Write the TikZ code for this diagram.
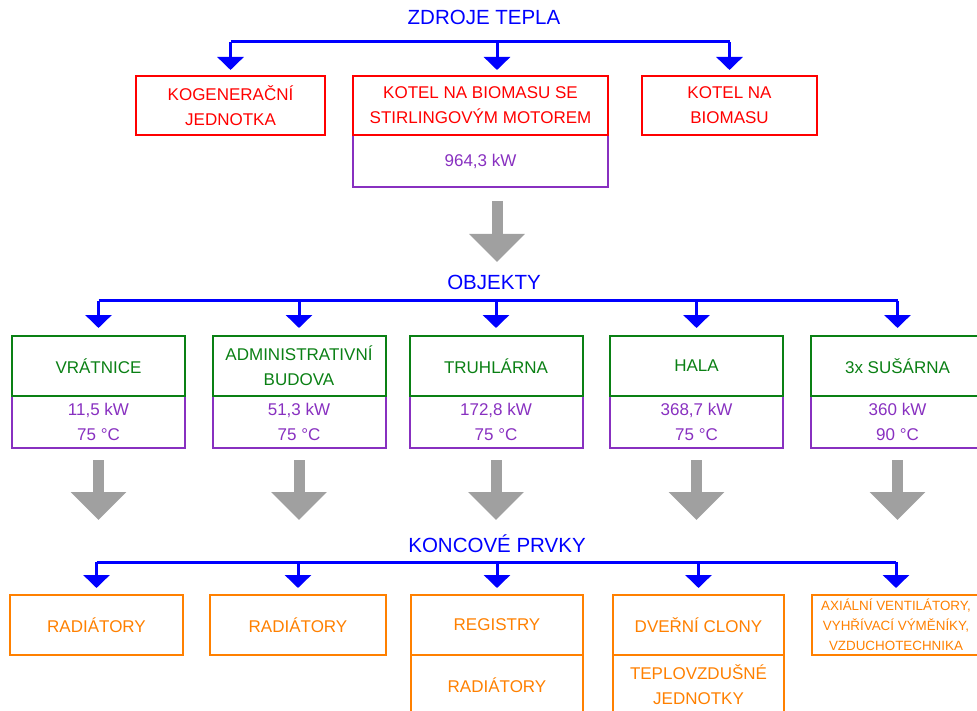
\documentclass[tikz,border=0pt]{standalone}
\usepackage{fontspec}
\setmainfont{Liberation Sans}
\usetikzlibrary{arrows.meta,positioning}
\definecolor{zblue}{RGB}{0,0,255}
\definecolor{zred}{RGB}{255,0,0}
\definecolor{zgreen}{RGB}{10,128,20}
\definecolor{zpurple}{RGB}{136,48,192}
\definecolor{zorange}{RGB}{255,128,0}
\definecolor{zgray}{RGB}{160,160,160}
\tikzset{
  box/.style={draw, line width=2pt, outer sep=0pt, inner sep=0pt, align=center,
    minimum height=60pt, font=\fontsize{17}{25}\selectfont},
  zdroj/.style={box, draw=zred, text=zred, line width=1.6pt, minimum height=59pt},
  objekt/.style={box, draw=zgreen, text=zgreen, minimum width=173pt},
  hodnota/.style={box, draw=zpurple, text=zpurple, minimum height=52pt},
  prvek/.style={box, draw=zorange, text=zorange, minimum width=173pt},
  nadpis/.style={text=zblue, anchor=base, font=\fontsize{20.5}{24}\selectfont},
  bus/.style={zblue, line width=3pt},
  drop/.style={bus, -{Triangle[width=26pt,length=13pt]}},
  fat/.style={zgray, line width=11pt, -{Triangle[width=54pt,length=28pt]}},
}

\begin{document}
\begin{tikzpicture}[x=1pt,y=-1pt]
  \useasboundingbox (0,0) rectangle (977,711);

  % zdroje tepla
  \node[nadpis] (zdroje) at (484,25) {ZDROJE TEPLA};
  \coordinate (zb) at (497,42);
  \node[zdroj, minimum width=189pt] (kogen) at (230.5,105.5) {KOGENERAČNÍ\\JEDNOTKA};
  \node[hodnota, minimum width=255pt] (stirlingP) at (480.5,161) {964,3 kW};
  \node[zdroj, minimum width=255pt, above=0pt of stirlingP] (stirling)
    {KOTEL NA BIOMASU SE\\STIRLINGOVÝM MOTOREM};
  \node[zdroj, minimum width=175pt] (kotel) at (729.5,105.5) {KOTEL NA\\BIOMASU};

  \draw[bus] (kogen.north |- zb) -- (kotel.north |- zb);
  \foreach \n in {kogen,kotel}
    \draw[drop, shorten >=6pt] (\n.north |- zb) -- (\n.north);
  \draw[drop, shorten >=6pt] (zb) -- (zb |- stirling.north);
  \draw[fat] ([yshift=-14pt]zb |- stirlingP.south) -- ++(0,61);

  % objekty
  \node[nadpis] (objekty) at (494,290) {OBJEKTY};
  \coordinate (ob) at (494,301);
  \node[hodnota, minimum width=173pt] (vratniceP) at (98.5,422) {11,5 kW\\75 °C};
  \node[hodnota, minimum width=173pt] (adminP) at (299,422) {51,3 kW\\75 °C};
  \node[hodnota, minimum width=173pt] (truhlarnaP) at (496,422) {172,8 kW\\75 °C};
  \node[hodnota, minimum width=173pt] (halaP) at (696.5,422) {368,7 kW\\75 °C};
  \node[hodnota, minimum width=173pt] (susarnaP) at (897.5,422) {360 kW\\90 °C};
  \node[objekt, above=0pt of vratniceP] (vratnice) {VRÁTNICE};
  \node[objekt, above=0pt of adminP] (admin) {ADMINISTRATIVNÍ\\BUDOVA};
  \node[objekt, above=0pt of truhlarnaP] (truhlarna) {TRUHLÁRNA};
  \node[objekt, above=0pt of halaP] (hala) {HALA};
  \node[objekt, above=0pt of susarnaP] (susarna) {3x SUŠÁRNA};

  \draw[bus] (vratnice.north |- ob) -- (susarna.north |- ob);
  \foreach \n in {vratnice,admin,truhlarna,hala,susarna}{
    \draw[drop, shorten >=8pt] (\n.north |- ob) -- (\n.north);
    \draw[fat] ([yshift=-12pt]\n P.south) -- ++(0,60);
  }

  % koncove prvky
  \node[nadpis] (koncove) at (497,552) {KONCOVÉ PRVKY};
  \coordinate (kb) at (497,562);
  \node[prvek] (rad1) at (96.5,625) {RADIÁTORY};
  \node[prvek, minimum width=176pt] (rad2) at (298,625) {RADIÁTORY};
  \node[prvek, minimum width=172pt] (registry) at (497,625) {REGISTRY};
  \node[prvek, minimum width=172pt, below=0pt of registry] (rad3) {RADIÁTORY};
  \node[prvek, minimum width=171pt] (clony) at (698.5,625) {DVEŘNÍ CLONY};
  \node[prvek, minimum width=171pt, below=0pt of clony] (teplovz) {TEPLOVZDUŠNÉ\\JEDNOTKY};
  \node[prvek, minimum width=168pt, font=\fontsize{13.4}{20}\selectfont] (axial) at (896,625)
    {AXIÁLNÍ VENTILÁTORY,\\VYHŘÍVACÍ VÝMĚNÍKY,\\VZDUCHOTECHNIKA};

  \draw[bus] (rad1.north |- kb) -- (axial.north |- kb);
  \foreach \n in {rad1,rad2,registry,clony,axial}
    \draw[drop, shorten >=7pt] (\n.north |- kb) -- (\n.north);
\end{tikzpicture}
\end{document}
